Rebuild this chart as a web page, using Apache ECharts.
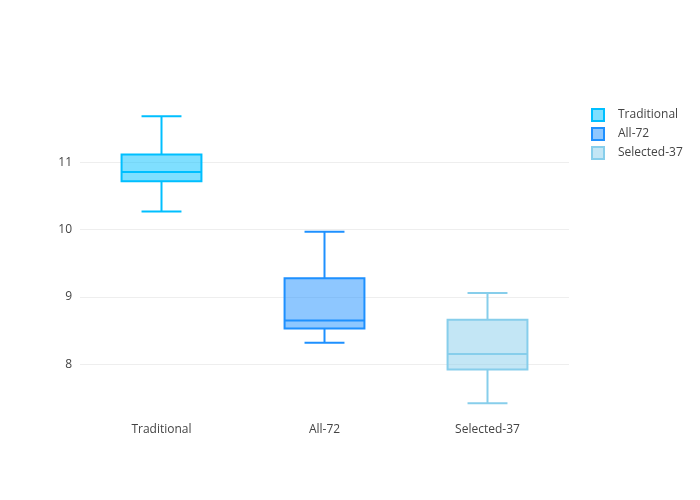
<!DOCTYPE html>
<html>
<head>
<meta charset="utf-8">
<script src="https://cdn.jsdelivr.net/npm/echarts@6/dist/echarts.min.js"></script>
<style>
  html, body { margin: 0; padding: 0; background: #fff; }
  #chart { width: 700px; height: 500px; }
</style>
</head>
<body>
<div id="chart"></div>
<script>
// categories and box stats: [min, q1, median, q3, max]
var categories = ['Traditional', 'All-72', 'Selected-37'];
var traditional = [10.27, 10.72, 10.86, 11.12, 11.69];
var all72 = [8.32, 8.53, 8.65, 9.28, 9.97];
var selected37 = [7.42, 7.92, 8.15, 8.66, 9.06];

var lineColors = ['#00bfff', '#1e90ff', '#87ceeb'];
var fillColors = ['rgba(0,191,255,0.5)', 'rgba(30,144,255,0.5)', 'rgba(135,206,235,0.5)'];

var chartDom = document.getElementById('chart');
var myChart = echarts.init(chartDom);

function makeRender(idx) {
  return function (params, api) {
    var x = api.value(0);
    var pMin = api.coord([x, api.value(1)]);
    var pQ1 = api.coord([x, api.value(2)]);
    var pMed = api.coord([x, api.value(3)]);
    var pQ3 = api.coord([x, api.value(4)]);
    var pMax = api.coord([x, api.value(5)]);
    var band = api.size([1, 0])[0];
    var hw = band * 0.49 / 2;
    var cw = hw / 2;
    var cx = pMed[0];
    var ls = { stroke: lineColors[idx], lineWidth: 2, fill: null };
    return {
      type: 'group',
      children: [
        { type: 'line', shape: { x1: cx, y1: pQ3[1], x2: cx, y2: pMax[1] }, style: ls },
        { type: 'line', shape: { x1: cx, y1: pQ1[1], x2: cx, y2: pMin[1] }, style: ls },
        { type: 'line', shape: { x1: cx - cw, y1: pMax[1], x2: cx + cw, y2: pMax[1] }, style: ls },
        { type: 'line', shape: { x1: cx - cw, y1: pMin[1], x2: cx + cw, y2: pMin[1] }, style: ls },
        {
          type: 'rect',
          shape: { x: cx - hw, y: pQ3[1], width: hw * 2, height: pQ1[1] - pQ3[1] },
          style: { fill: fillColors[idx], stroke: lineColors[idx], lineWidth: 2 }
        },
        { type: 'line', shape: { x1: cx - hw, y1: pMed[1], x2: cx + hw, y2: pMed[1] }, style: ls }
      ]
    };
  };
}

var stats = [traditional, all72, selected37];
var series = categories.map(function (name, i) {
  return {
    name: name,
    type: 'custom',
    renderItem: makeRender(i),
    itemStyle: { color: fillColors[i], borderColor: lineColors[i], borderWidth: 2 },
    encode: { x: 0, y: [1, 2, 3, 4, 5] },
    data: [[i].concat(stats[i])]
  };
});

var option = {
  animation: false,
  textStyle: { fontFamily: 'Open Sans' },
  grid: { left: 80, top: 100, width: 489, height: 320, containLabel: false },
  legend: {
    orient: 'vertical',
    left: 586,
    top: 103,
    itemWidth: 12,
    itemHeight: 12,
    itemGap: 5,
    icon: 'rect',
    textStyle: { color: '#444', fontSize: 12, fontFamily: 'Open Sans', padding: [0, 0, 0, 9] },
    data: categories.map(function (name, i) {
      return { name: name, itemStyle: { color: fillColors[i], borderColor: lineColors[i], borderWidth: 2 } };
    })
  },
  xAxis: {
    type: 'category',
    data: categories,
    axisLine: { show: false },
    axisTick: { show: false },
    axisLabel: { color: '#444', fontSize: 12, margin: 4, fontFamily: 'Open Sans' }
  },
  yAxis: {
    type: 'value',
    min: 7.17,
    max: 11.93,
    splitNumber: 4,
    axisLine: { show: false },
    axisTick: { show: false },
    axisLabel: { color: '#444', fontSize: 12, margin: 8, showMinLabel: false, showMaxLabel: false, fontFamily: 'Open Sans' },
    splitLine: { show: true, showMinLine: false, showMaxLine: false, lineStyle: { color: '#eee', width: 1 } }
  },
  series: series
};

option && myChart.setOption(option);
</script>
</body>
</html>
